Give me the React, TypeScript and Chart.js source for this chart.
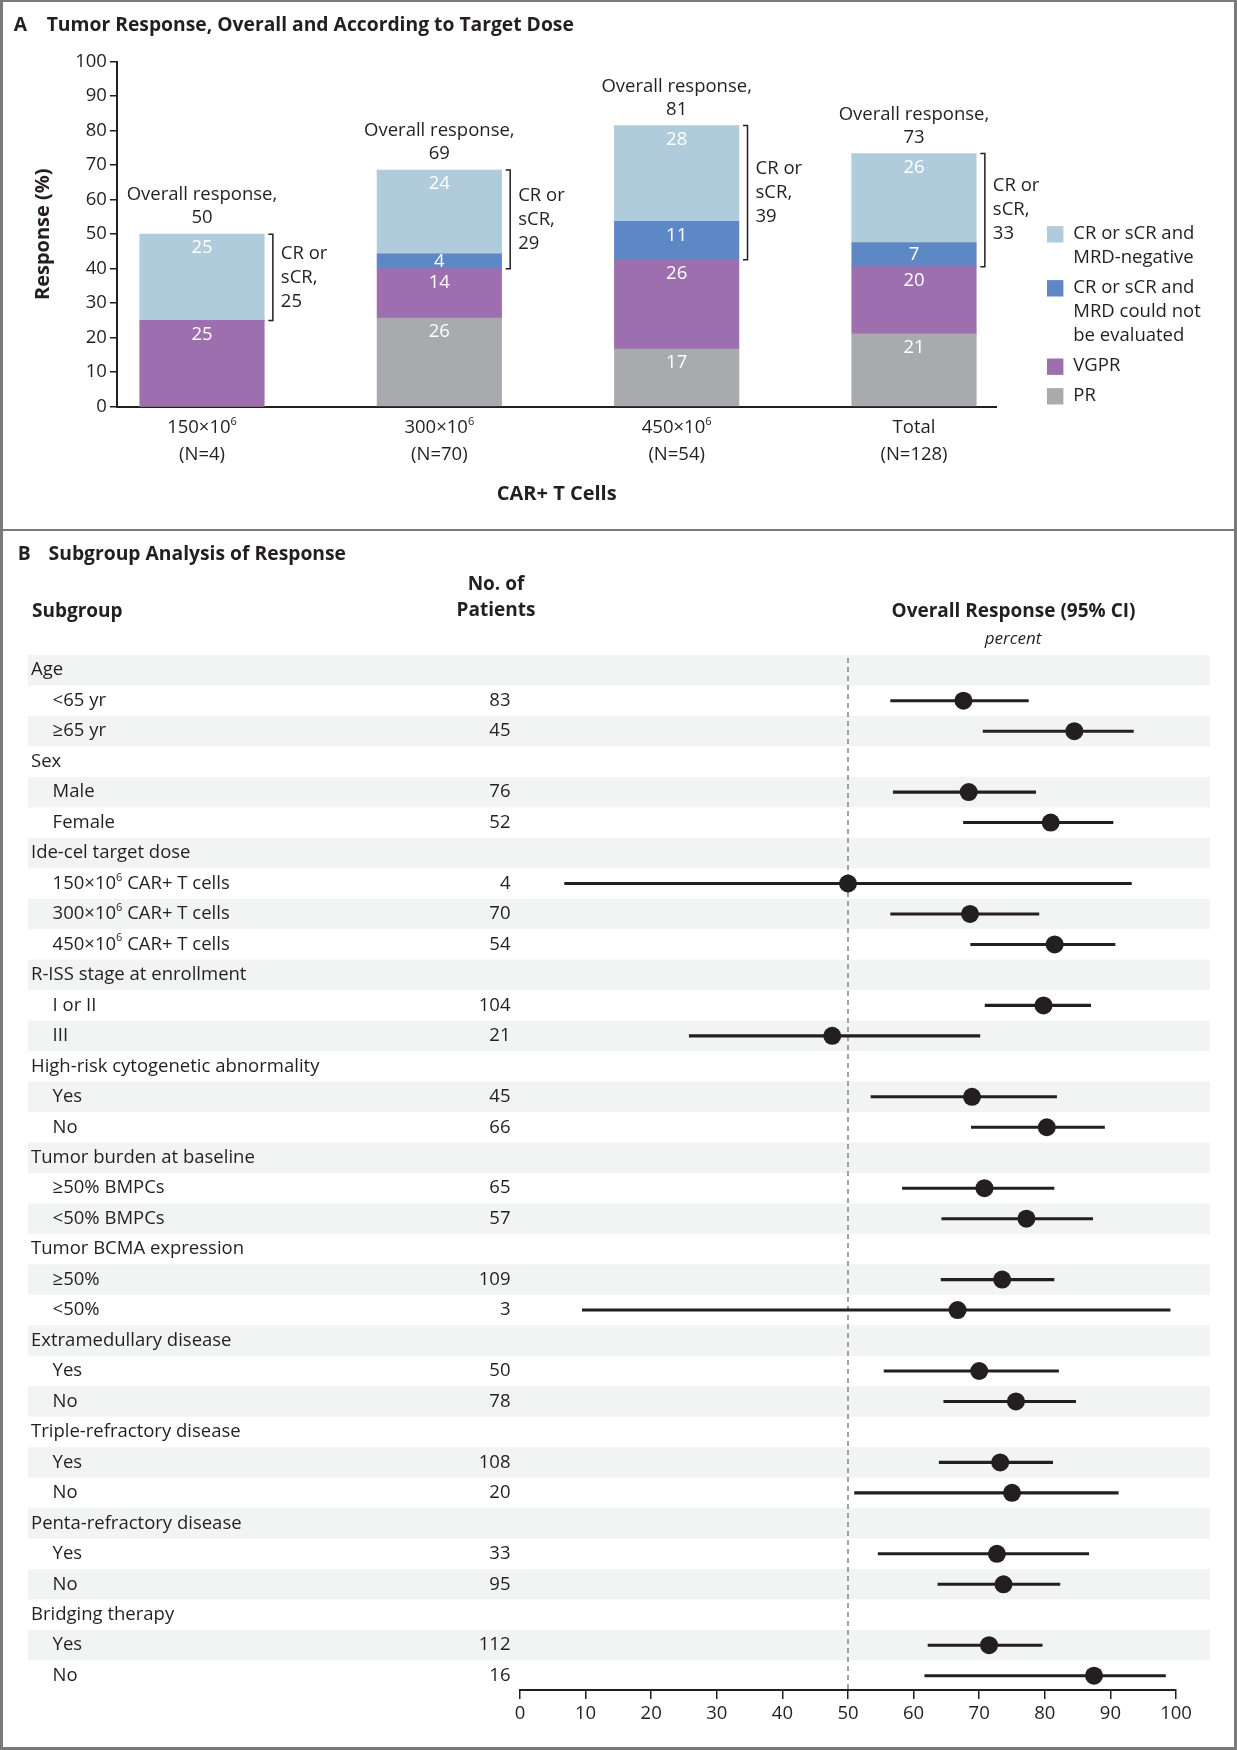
import React, { useEffect, useRef } from 'react';
import { Chart, registerables } from 'chart.js';

Chart.register(...registerables);

const FONT = "'Open Sans', Lato, 'Noto Sans', 'DejaVu Sans', sans-serif";
const INK = '#231f20';
const FS = 18.5; // body text size
const FB = 19; // bold header size
const FT = 19.3; // panel title size

// ---------- Panel A data ----------
const DOSE_LINE1 = ['150×10{6}', '300×10{6}', '450×10{6}', 'Total'];
const DOSE_LINE2 = ['(N=4)', '(N=70)', '(N=54)', '(N=128)'];
const PR = [0, 25.7, 16.7, 21.1];
const VGPR = [25, 14.3, 25.9, 19.5];
const CR_MRD_NE = [0, 4.3, 11.1, 7.0];
const CR_MRD_NEG = [25, 24.3, 27.8, 25.8];
const OVERALL = [50, 69, 81, 73];
const CR_TOTAL = [25, 29, 39, 33];
const SERIES_LABELS = [
  ['PR'],
  ['VGPR'],
  ['CR or sCR and', 'MRD could not', 'be evaluated'],
  ['CR or sCR and', 'MRD-negative'],
];
const SERIES_COLORS = ['#a8aaad', '#9e6fae', '#5e87c5', '#afcbdc'];
const TITLE_A = 'Tumor Response, Overall and According to Target Dose';
const Y_TITLE_A = 'Response (%)';
const X_TITLE_A = 'CAR+ T Cells';

// ---------- Panel B data ----------
const ROW_LABELS = [
  'Age', '<65 yr', '≥65 yr',
  'Sex', 'Male', 'Female',
  'Ide-cel target dose', '150×10{6} CAR+ T cells', '300×10{6} CAR+ T cells', '450×10{6} CAR+ T cells',
  'R-ISS stage at enrollment', 'I or II', 'III',
  'High-risk cytogenetic abnormality', 'Yes', 'No',
  'Tumor burden at baseline', '≥50% BMPCs', '<50% BMPCs',
  'Tumor BCMA expression', '≥50%', '<50%',
  'Extramedullary disease', 'Yes', 'No',
  'Triple-refractory disease', 'Yes', 'No',
  'Penta-refractory disease', 'Yes', 'No',
  'Bridging therapy', 'Yes', 'No',
];
const PATIENTS = [null, 83, 45, null, 76, 52, null, 4, 70, 54, null, 104, 21, null, 45, 66, null, 65, 57, null, 109, 3, null, 50, 78, null, 108, 20, null, 33, 95, null, 112, 16];
const ESTIMATE = [null, 67.6, 84.5, null, 68.4, 80.9, null, 50.0, 68.6, 81.5, null, 79.8, 47.6, null, 68.9, 80.3, null, 70.8, 77.2, null, 73.5, 66.7, null, 70.0, 75.6, null, 73.2, 75.0, null, 72.7, 73.7, null, 71.5, 87.5];
const CI_LOW = [null, 56.5, 70.6, null, 56.9, 67.6, null, 6.8, 56.5, 68.7, null, 70.9, 25.8, null, 53.5, 68.8, null, 58.3, 64.3, null, 64.2, 9.5, null, 55.5, 64.6, null, 63.9, 51.0, null, 54.6, 63.7, null, 62.2, 61.7];
const CI_HIGH = [null, 77.5, 93.5, null, 78.6, 90.4, null, 93.2, 79.1, 90.7, null, 87.0, 70.1, null, 81.8, 89.1, null, 81.4, 87.3, null, 81.4, 99.1, null, 82.1, 84.7, null, 81.2, 91.2, null, 86.7, 82.3, null, 79.6, 98.4];
const X_TICKS_B = [0, 10, 20, 30, 40, 50, 60, 70, 80, 90, 100];
const REFERENCE = 50;
const TITLE_B = 'Subgroup Analysis of Response';

// ---------- helpers ----------
function drawRich(ctx: any, text: string, x: number, y: number, align: string, size: number, weight: string, color: string, style = 'normal') {
  const parts: any[] = [];
  const re = /\{([^}]*)\}/g;
  let last = 0;
  let m: any;
  while ((m = re.exec(text))) {
    if (m.index > last) parts.push({ t: text.slice(last, m.index), sup: false });
    parts.push({ t: m[1], sup: true });
    last = re.lastIndex;
  }
  if (last < text.length) parts.push({ t: text.slice(last), sup: false });
  const fMain = `${style} ${weight} ${size}px ${FONT}`;
  const fSup = `${style} ${weight} ${Math.round(size * 0.62)}px ${FONT}`;
  let total = 0;
  parts.forEach((p) => {
    ctx.font = p.sup ? fSup : fMain;
    p.w = ctx.measureText(p.t).width;
    total += p.w;
  });
  let sx = align === 'center' ? x - total / 2 : align === 'right' ? x - total : x;
  ctx.fillStyle = color;
  ctx.textAlign = 'left';
  ctx.textBaseline = 'middle';
  parts.forEach((p) => {
    ctx.font = p.sup ? fSup : fMain;
    ctx.fillText(p.t, sx, p.sup ? y - size * 0.33 : y);
    sx += p.w;
  });
}

const SERIES = [PR, VGPR, CR_MRD_NE, CR_MRD_NEG];

const annotateA = {
  id: 'annotateA',
  afterDraw(chart: any) {
    const ctx = chart.ctx;
    const metas = SERIES.map((_, k) => chart.getDatasetMeta(k));
    ctx.save();
    drawRich(ctx, 'A', 13.8, 26, 'left', FT, 'bold', INK);
    drawRich(ctx, TITLE_A, 46.7, 26, 'left', FT, 'bold', INK);
    SERIES.forEach((vals, k) => {
      vals.forEach((v, i) => {
        if (!(v > 0)) return;
        const el = metas[k].data[i];
        const top = Math.min(el.y, el.base);
        const h = Math.abs(el.base - el.y);
        drawRich(ctx, String(Math.round(v)), el.x, top + Math.min(14, h / 2), 'center', FS, 'normal', '#ffffff');
      });
    });
    const xScale = chart.scales.x;
    DOSE_LINE1.forEach((lab, i) => {
      const topEl = metas[3].data[i];
      const neEl = metas[2].data[i];
      const x = topEl.x;
      const top = topEl.y;
      drawRich(ctx, 'Overall response,', x, top - 39.2, 'center', FS, 'normal', INK);
      drawRich(ctx, String(OVERALL[i]), x, top - 16, 'center', FS, 'normal', INK);
      const bx = x + topEl.width / 2 + 8.6;
      const bBot = neEl.base;
      ctx.strokeStyle = INK;
      ctx.lineWidth = 1.5;
      ctx.beginPath();
      ctx.moveTo(bx - 4.5, top);
      ctx.lineTo(bx, top);
      ctx.lineTo(bx, bBot);
      ctx.lineTo(bx - 4.5, bBot);
      ctx.stroke();
      const cy = (top + bBot) / 2;
      ['CR or', 'sCR,', String(CR_TOTAL[i])].forEach((t, j) => {
        drawRich(ctx, t, bx + 8, cy + (j - 1) * 24, 'left', FS, 'normal', INK);
      });
      const cx = xScale.getPixelForValue(i);
      drawRich(ctx, lab, cx, 428, 'center', FS, 'normal', INK);
      drawRich(ctx, DOSE_LINE2[i], cx, 455, 'center', FS, 'normal', INK);
    });
    let ly = 233.3;
    [3, 2, 1, 0].forEach((k, n) => {
      if (n > 0) ly += 29.6;
      ctx.fillStyle = SERIES_COLORS[k];
      ctx.fillRect(1047, ly + 1 - 8.2, 16.4, 16.4);
      SERIES_LABELS[k].forEach((t, j) => {
        if (j > 0) ly += 24.4;
        drawRich(ctx, t, 1073.3, ly, 'left', FS, 'normal', INK);
      });
    });
    ctx.restore();
  },
};

const NROWS = ROW_LABELS.length;

const annotateB = {
  id: 'annotateB',
  beforeDraw(chart: any) {
    const ctx = chart.ctx;
    const y = chart.scales.y;
    ctx.save();
    ctx.fillStyle = '#f2f3f3';
    for (let i = 0; i < NROWS; i += 2) {
      const t = y.getPixelForValue(i - 0.5);
      const b = y.getPixelForValue(i + 0.5);
      ctx.fillRect(28, t, 1210 - 28, b - t);
    }
    ctx.restore();
  },
  beforeDatasetsDraw(chart: any) {
    const ctx = chart.ctx;
    const x = chart.scales.x.getPixelForValue(REFERENCE);
    const y = chart.scales.y;
    ctx.save();
    ctx.strokeStyle = '#8c8c8c';
    ctx.lineWidth = 1.6;
    ctx.setLineDash([5, 4]);
    ctx.beginPath();
    ctx.moveTo(x, y.getPixelForValue(-0.5) + 3);
    ctx.lineTo(x, chart.chartArea.bottom);
    ctx.stroke();
    ctx.restore();
  },
  afterDraw(chart: any) {
    const ctx = chart.ctx;
    const y = chart.scales.y;
    ctx.save();
    drawRich(ctx, 'B', 17.8, 25, 'left', FT, 'bold', INK);
    drawRich(ctx, TITLE_B, 48.6, 25, 'left', FT, 'bold', INK);
    drawRich(ctx, 'Subgroup', 32, 82, 'left', FB, 'bold', INK);
    drawRich(ctx, 'No. of', 496, 55, 'center', FB, 'bold', INK);
    drawRich(ctx, 'Patients', 496, 81, 'center', FB, 'bold', INK);
    drawRich(ctx, 'Overall Response (95% CI)', 1013.5, 81.7, 'center', FB, 'bold', INK);
    drawRich(ctx, 'percent', 1013, 109, 'center', 17, 'normal', INK, 'italic');
    ROW_LABELS.forEach((lab, i) => {
      const py = y.getPixelForValue(i);
      const isHeader = PATIENTS[i] === null;
      drawRich(ctx, lab, isHeader ? 31 : 52.6, py, 'left', FS, 'normal', INK);
      if (!isHeader) drawRich(ctx, String(PATIENTS[i]), 510.5, py, 'right', FS, 'normal', INK);
    });
    ctx.restore();
  },
};

function PanelA() {
  const ref = useRef<HTMLCanvasElement | null>(null);
  useEffect(() => {
    if (!ref.current) return;
    const chart = new Chart(ref.current, {
      type: 'bar',
      data: {
        datasets: SERIES.map((vals, k) => ({
          label: SERIES_LABELS[k].join(' '),
          data: vals.map((v, i) => ({ x: i, y: v })),
          backgroundColor: SERIES_COLORS[k],
          borderWidth: 0,
          barThickness: 124.5,
        })),
      },
      options: {
        animation: false,
        responsive: false,
        maintainAspectRatio: false,
        layout: { padding: { left: 0, right: 241, top: 61.7, bottom: 0 } },
        plugins: { legend: { display: false }, tooltip: { enabled: false } },
        scales: {
          x: {
            type: 'linear',
            stacked: true,
            offset: false,
            min: -0.3565,
            max: 3.3455,
            ticks: { display: false },
            grid: { display: false },
            border: { display: true, color: INK, width: 2 },
            title: {
              display: true,
              text: X_TITLE_A,
              color: INK,
              font: { family: FONT, size: FB + 1, weight: 'bold' },
              padding: { top: 0, bottom: 23.5 },
            },
            afterFit: (s: any) => { s.height = 123.3; },
          },
          y: {
            type: 'linear',
            stacked: true,
            min: 0,
            max: 100,
            ticks: { stepSize: 10, color: INK, padding: 3, font: { family: FONT, size: FS } },
            grid: { drawOnChartArea: false, tickLength: 7.5, color: INK, lineWidth: 1.5 },
            border: { display: true, color: INK, width: 2 },
            title: {
              display: true,
              text: Y_TITLE_A,
              color: INK,
              font: { family: FONT, size: FB + 1, weight: 'bold' },
              padding: { top: 31.5, bottom: 0 },
            },
            afterFit: (s: any) => { s.width = 117.4; },
          },
        },
      } as any,
      plugins: [annotateA],
    });
    return () => chart.destroy();
  }, []);
  return <canvas ref={ref} width={1237} height={530} style={{ position: 'absolute', left: 0, top: 0, width: 1237, height: 530 }} />;
}

function PanelB() {
  const ref = useRef<HTMLCanvasElement | null>(null);
  useEffect(() => {
    if (!ref.current) return;
    const pts: any[] = [];
    const cis: any[] = [];
    ROW_LABELS.forEach((_, i) => {
      if (ESTIMATE[i] !== null) pts.push({ x: ESTIMATE[i], y: i });
      if (CI_LOW[i] !== null) cis.push({ x: [CI_LOW[i], CI_HIGH[i]], y: i });
    });
    const chart = new Chart(ref.current, {
      type: 'scatter',
      data: {
        datasets: [
          {
            type: 'scatter',
            label: 'Overall response',
            data: pts,
            pointRadius: 9,
            pointHoverRadius: 9,
            pointBackgroundColor: INK,
            pointBorderWidth: 0,
            showLine: false,
            order: 0,
          },
          {
            type: 'bar',
            label: '95% CI',
            indexAxis: 'y',
            data: cis,
            backgroundColor: INK,
            borderWidth: 0,
            barThickness: 2.4,
            order: 1,
          },
        ],
      } as any,
      options: {
        animation: false,
        responsive: false,
        maintainAspectRatio: false,
        layout: { padding: { left: 520, right: 61, top: 125, bottom: 0 } },
        plugins: { legend: { display: false }, tooltip: { enabled: false } },
        scales: {
          x: {
            type: 'linear',
            offset: false,
            min: 0,
            max: 100,
            afterBuildTicks: (s: any) => { s.ticks = X_TICKS_B.map((v) => ({ value: v })); },
            ticks: { color: INK, padding: 4, maxRotation: 0, font: { family: FONT, size: FS } },
            grid: { drawOnChartArea: false, tickLength: 9, color: INK, lineWidth: 1.5, offset: false },
            border: { display: true, color: INK, width: 2 },
            afterFit: (s: any) => { s.height = 60; },
          },
          y: {
            type: 'linear',
            display: false,
            offset: false,
            reverse: true,
            min: -0.5,
            max: 33.47,
          },
        },
      } as any,
      plugins: [annotateB],
    });
    return () => chart.destroy();
  }, []);
  return <canvas ref={ref} width={1237} height={1220} style={{ position: 'absolute', left: 0, top: 530, width: 1237, height: 1220 }} />;
}

export default function App() {
  return (
    <div style={{ position: 'absolute', left: 0, top: 0, width: 1237, height: 1750, background: '#ffffff', fontFamily: FONT }}>
      <PanelA />
      <PanelB />
      <div style={{ position: 'absolute', left: 0, top: 0, width: 1237, height: 1750, boxSizing: 'border-box', borderStyle: 'solid', borderColor: '#7a7a7a', borderWidth: '2px 3px 3px 3px', pointerEvents: 'none' }} />
      <div style={{ position: 'absolute', left: 0, top: 529, width: 1237, height: 2, background: '#7a7a7a', pointerEvents: 'none' }} />
    </div>
  );
}
